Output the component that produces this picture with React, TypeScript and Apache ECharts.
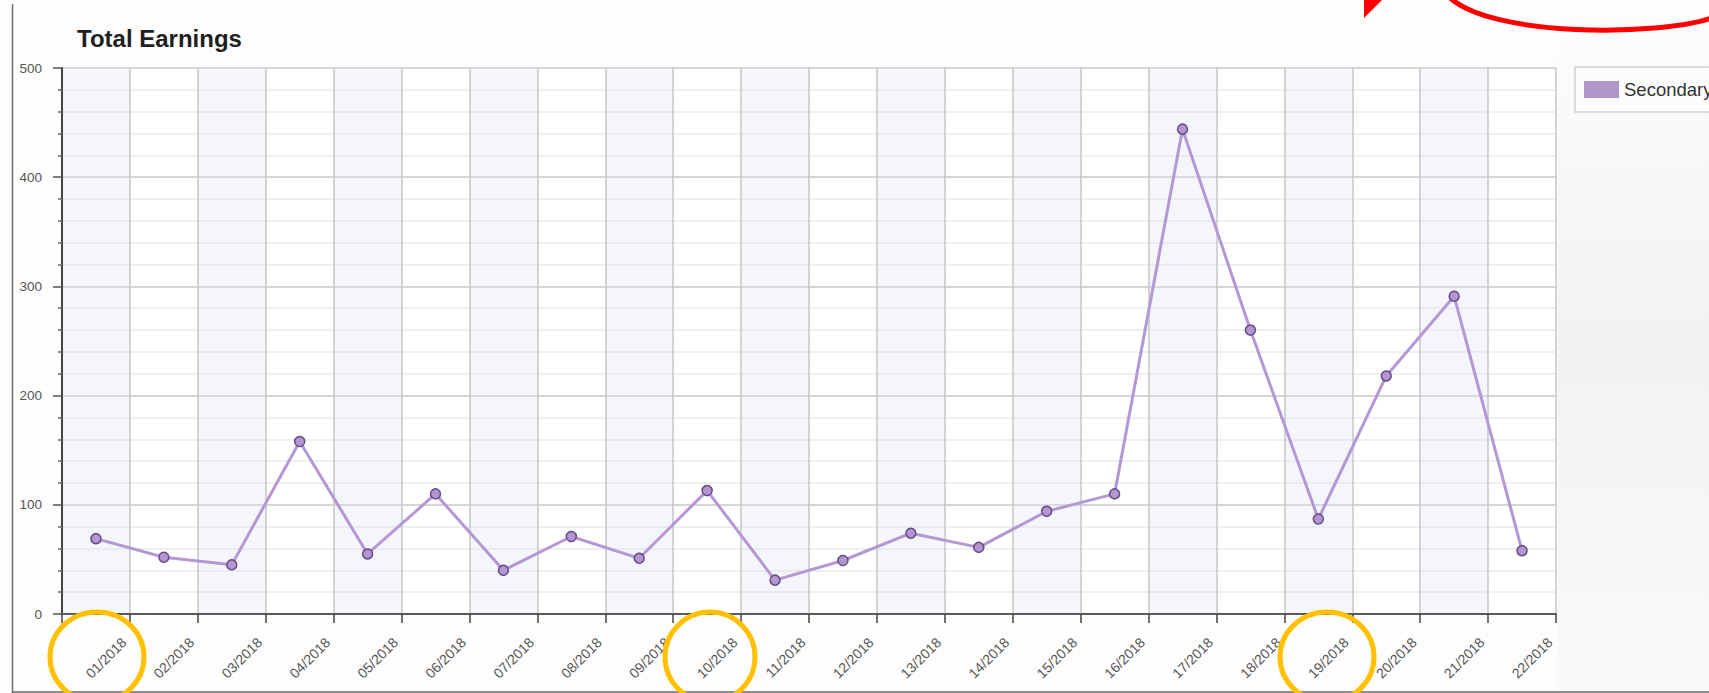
import React, { useEffect, useRef } from 'react';
import * as echarts from 'echarts';

const chartTitle = 'Total Earnings';
const seriesName = 'Secondary';
const categories = [
  '01/2018', '02/2018', '03/2018', '04/2018', '05/2018', '06/2018', '07/2018', '08/2018',
  '09/2018', '10/2018', '11/2018', '12/2018', '13/2018', '14/2018', '15/2018', '16/2018',
  '17/2018', '18/2018', '19/2018', '20/2018', '21/2018', '22/2018',
];
const secondaryValues = [69, 52, 45, 158, 55, 110, 40, 71, 51, 113, 31, 49, 74, 61, 94, 110, 444, 260, 87, 218, 291, 58];
const yMin = 0;
const yMax = 500;
const yInterval = 100;

const FONT = '"Liberation Sans", Arial, sans-serif';

export default function App() {
  const ref = useRef<HTMLDivElement>(null);

  useEffect(() => {
    if (!ref.current) return;
    const chart = echarts.init(ref.current, null, { renderer: 'svg' });
    const gLeft = 62;
    const gTop = 68;
    const gWidth = 1494;
    const gHeight = 546;
    const band = gWidth / categories.length;

    chart.setOption({
      animation: false,
      backgroundColor: '#fdfdfd',
      title: {
        text: chartTitle,
        left: 77,
        top: 26,
        padding: 0,
        textStyle: { fontFamily: FONT, fontSize: 24, fontWeight: 'bold', color: '#1f1f1f' },
      },
      legend: {
        data: [seriesName],
        left: 1575,
        top: 67,
        orient: 'vertical',
        padding: [13, 40, 13, 9],
        itemWidth: 35,
        itemHeight: 17,
        icon: 'rect',
        backgroundColor: '#fcfcfc',
        borderColor: '#d0d0d0',
        borderWidth: 1.5,
        itemStyle: { color: '#b196cc', borderWidth: 0 },
        textStyle: { fontFamily: FONT, fontSize: 18.5, color: '#333' },
      },
      grid: [
        {
          left: gLeft, top: gTop, width: gWidth, height: gHeight,
          show: true, backgroundColor: '#ffffff', borderWidth: 0,
          containLabel: false, outerBoundsMode: 'none',
        },
        {
          left: gLeft + band / 2 - 6, top: gTop, width: gWidth, height: gHeight,
          show: false, containLabel: false, outerBoundsMode: 'none',
        },
      ],
      xAxis: [
        {
          type: 'category',
          gridIndex: 0,
          position: 'bottom',
          data: categories,
          boundaryGap: true,
          axisLine: { show: true, lineStyle: { color: '#5a5a5a', width: 2 } },
          axisTick: { show: true, length: 9, lineStyle: { color: '#444', width: 1.5 } },
          axisLabel: { show: false },
          splitLine: { show: true, lineStyle: { color: '#c6c6c9', width: 1.5 } },
          splitArea: {
            show: true,
            areaStyle: { color: ['rgba(222,227,247,0.33)', 'rgba(255,255,255,0)'] },
          },
        },
        {
          type: 'category',
          gridIndex: 1,
          position: 'bottom',
          data: categories,
          axisLine: { show: false },
          axisTick: { show: false },
          splitLine: { show: false },
          splitArea: { show: false },
          axisLabel: {
            show: true, interval: 0, rotate: 45, margin: 26,
            fontFamily: FONT, fontSize: 14, color: '#555',
          },
        },
      ],
      yAxis: [
        {
          type: 'value',
          gridIndex: 0,
          min: yMin,
          max: yMax,
          interval: yInterval,
          axisLine: { show: true, lineStyle: { color: '#444', width: 2 } },
          axisTick: { show: true, length: 9, lineStyle: { color: '#555', width: 1.5 } },
          minorTick: { show: true, splitNumber: 5, length: 4, lineStyle: { color: '#666', width: 1.5 } },
          axisLabel: { margin: 20, fontFamily: FONT, fontSize: 13.5, color: '#555' },
          splitLine: { show: true, lineStyle: { color: '#d6d6d6', width: 2 } },
          minorSplitLine: { show: true, lineStyle: { color: '#efefef', width: 2 } },
        },
        { type: 'value', gridIndex: 1, show: false },
      ],
      series: [
        {
          name: seriesName,
          type: 'line',
          xAxisIndex: 0,
          yAxisIndex: 0,
          data: secondaryValues,
          symbol: 'circle',
          symbolSize: 10,
          lineStyle: { color: '#b497d4', width: 3 },
          itemStyle: { color: '#b396d0', borderColor: '#654a88', borderWidth: 1.5 },
          z: 3,
        },
      ],
      graphic: [
        {
          type: 'rect',
          z: -10,
          silent: true,
          shape: { x: 1557.5, y: 0, width: 152, height: 691 },
          style: {
            fill: new echarts.graphic.LinearGradient(0, 0, 0, 1, [
              { offset: 0, color: '#fdfdfd' },
              { offset: 0.5, color: '#f2f2f2' },
              { offset: 1, color: '#fafafa' },
            ]),
          },
        },
        {
          type: 'line',
          z: 50,
          silent: true,
          shape: { x1: 12.5, y1: 4, x2: 12.5, y2: 693 },
          style: { stroke: '#6f6f6f', lineWidth: 1.5 },
        },
        {
          type: 'line',
          z: 50,
          silent: true,
          shape: { x1: 12, y1: 692, x2: 1709, y2: 692 },
          style: { stroke: '#666', lineWidth: 1.5 },
        },
        {
          type: 'ellipse',
          z: 100,
          silent: true,
          shape: { cx: 97, cy: 657, rx: 47, ry: 45 },
          style: { fill: 'none', stroke: '#ffc000', lineWidth: 5 },
        },
        {
          type: 'ellipse',
          z: 100,
          silent: true,
          shape: { cx: 710, cy: 657, rx: 45, ry: 45 },
          style: { fill: 'none', stroke: '#ffc000', lineWidth: 5 },
        },
        {
          type: 'ellipse',
          z: 100,
          silent: true,
          shape: { cx: 1327, cy: 657, rx: 47, ry: 45 },
          style: { fill: 'none', stroke: '#ffc000', lineWidth: 5 },
        },
        {
          type: 'bezierCurve',
          z: 100,
          silent: true,
          shape: { x1: 1448, y1: -4, cpx1: 1490, cpy1: 38, cpx2: 1660, cpy2: 36, x2: 1712, y2: 18 },
          style: { fill: 'none', stroke: '#ff0000', lineWidth: 5 },
        },
        {
          type: 'polygon',
          z: 100,
          silent: true,
          shape: { points: [[1364, 18], [1364, -20], [1402, -20]] },
          style: { fill: '#ff0000' },
        },
      ],
    });

    return () => chart.dispose();
  }, []);

  return (
    <div
      ref={ref}
      style={{ position: 'fixed', left: 0, top: 0, width: 1709, height: 693 }}
    />
  );
}
